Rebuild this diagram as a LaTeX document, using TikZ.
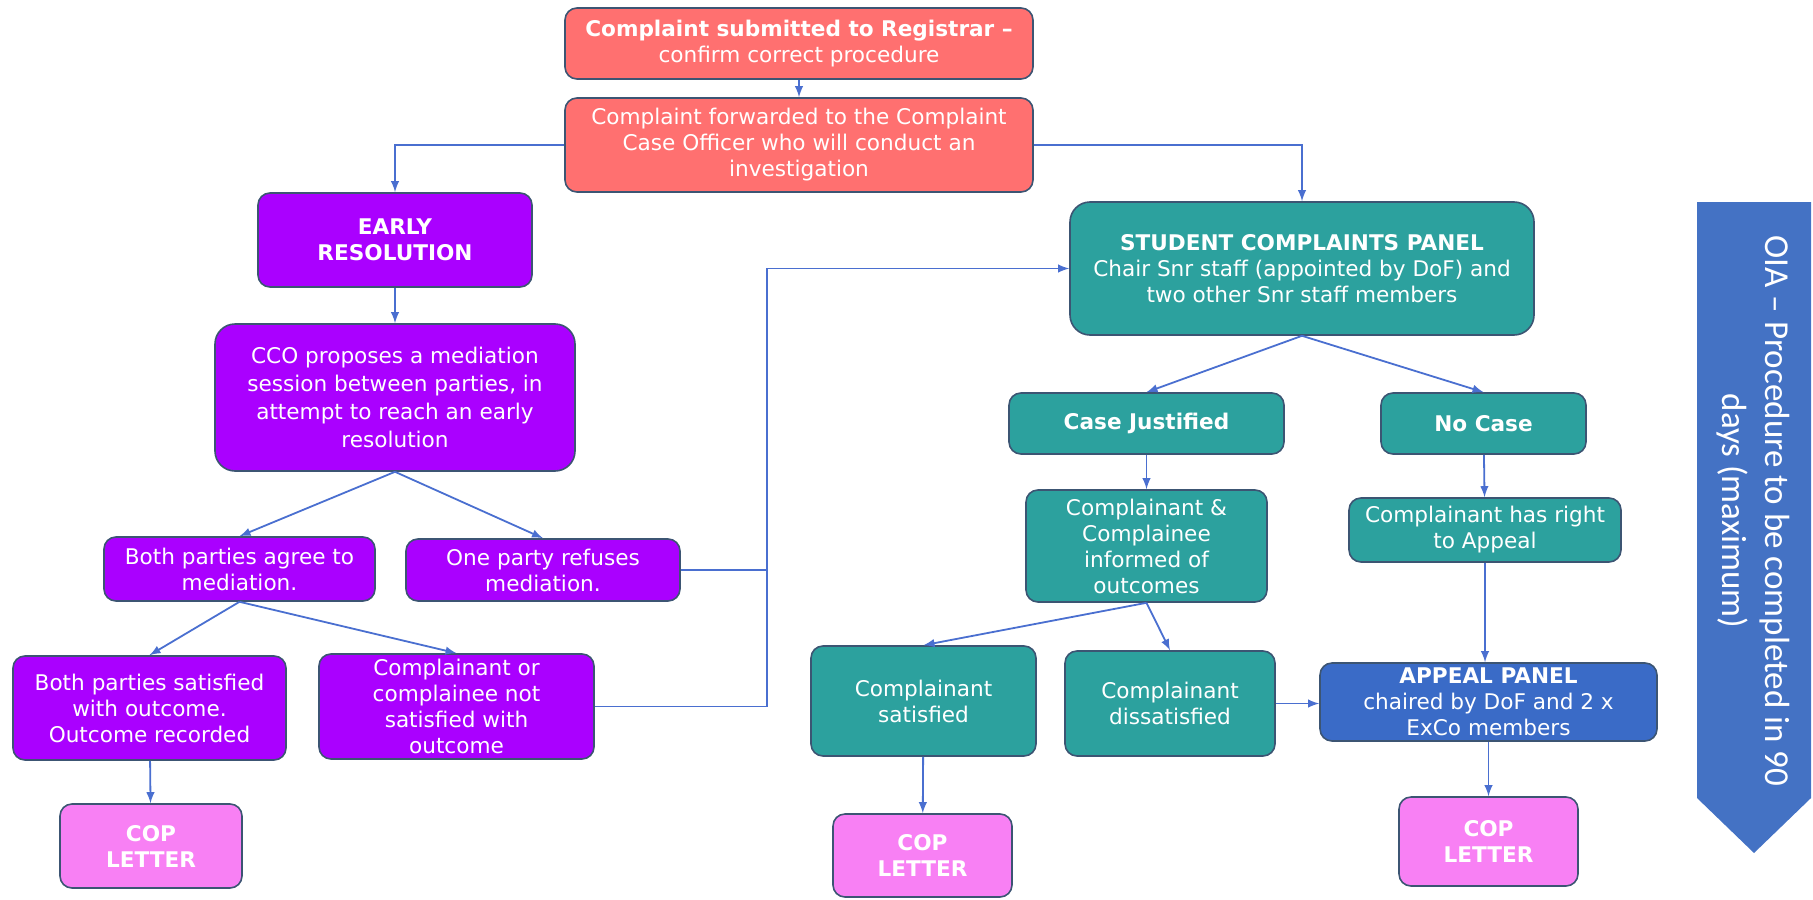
\documentclass[tikz,border=0pt]{standalone}
\usepackage{fontspec}
\setmainfont{DejaVu Sans}
\newfontfamily\oiafont{Carlito}
\usepackage{xcolor}
\usetikzlibrary{arrows}

\definecolor{salmonbox}{HTML}{FF7070}
\definecolor{purplebox}{HTML}{AA00FF}
\definecolor{tealbox}{HTML}{2CA19E}
\definecolor{appealblue}{HTML}{3A6BC7}
\definecolor{pinkbox}{HTML}{F880F4}
\definecolor{oiablue}{HTML}{4472C4}
\definecolor{edgeblue}{HTML}{4A6FD0}
\definecolor{boxline}{HTML}{3C5573}

\tikzset{
  box/.style={draw=boxline, line width=0.8pt, rounded corners=6pt, text=white,
    align=center, inner sep=2pt, font=\fontsize{10.8}{13}\selectfont},
  conn/.style={draw=edgeblue, line width=0.9pt, -latex},
}

\begin{document}
\begin{tikzpicture}[x=0.5pt, y=-0.5pt]
      \useasboundingbox (0,0) rectangle (1813,899);

      % registrar and case officer
      \node[box, fill=salmonbox, minimum width=234pt, minimum height=35.5pt] (reg) at (799,43.5)
        {\textbf{Complaint submitted to Registrar –}\\confirm correct procedure};
      \node[box, fill=salmonbox, minimum width=234pt, minimum height=47pt] (fwd) at (799,145)
        {Complaint forwarded to the Complaint\\Case Officer who will conduct an\\investigation};

      % early resolution side
      \node[box, fill=purplebox, minimum width=137pt, minimum height=47pt] (early) at (395,240)
        {\textbf{EARLY}\\\textbf{RESOLUTION}};
      \node[box, fill=purplebox, minimum width=180pt, minimum height=73.5pt, rounded corners=10pt,
        font=\fontsize{10.8}{14}\selectfont] (cco) at (395,397.5)
        {CCO proposes a mediation\\session between parties, in\\attempt to reach an early\\resolution};
      \node[box, fill=purplebox, minimum width=135.5pt, minimum height=32pt] (agree) at (239.5,569)
        {Both parties agree to\\mediation.};
      \node[box, fill=purplebox, minimum width=137pt, minimum height=31pt] (refuse) at (543,570)
        {One party refuses\\mediation.};
      \node[box, fill=purplebox, minimum width=136.5pt, minimum height=52pt] (bothsat) at (149.5,708)
        {Both parties satisfied\\with outcome.\\Outcome recorded};
      \node[box, fill=purplebox, minimum width=137.5pt, minimum height=52.5pt] (notsat) at (456.5,706.5)
        {Complainant or\\complainee not\\satisfied with\\outcome};
      \node[box, fill=pinkbox, minimum width=91pt, minimum height=42pt] (copa) at (151,846)
        {\textbf{COP}\\\textbf{LETTER}};

      % panel side
      \node[box, fill=tealbox, minimum width=232pt, minimum height=66.5pt, rounded corners=10pt] (scp) at (1302,268.5)
        {\textbf{STUDENT COMPLAINTS PANEL}\\Chair Snr staff (appointed by DoF) and\\two other Snr staff members};
      \node[box, fill=tealbox, minimum width=137.5pt, minimum height=30.5pt] (just) at (1146.5,423.5)
        {\textbf{Case Justified}};
      \node[box, fill=tealbox, minimum width=102.5pt, minimum height=30.5pt] (nocase) at (1483.5,423.5)
        {\textbf{No Case}};
      \node[box, fill=tealbox, minimum width=120.5pt, minimum height=56pt] (inform) at (1146.5,546)
        {Complainant \&\\Complainee\\informed of\\outcomes};
      \node[box, fill=tealbox, minimum width=136pt, minimum height=32pt] (right) at (1485,530)
        {Complainant has right\\to Appeal};
      \node[box, fill=tealbox, minimum width=112.5pt, minimum height=55pt] (csat) at (923.5,701)
        {Complainant\\satisfied};
      \node[box, fill=tealbox, minimum width=105pt, minimum height=52.5pt] (cdis) at (1170,703.5)
        {Complainant\\dissatisfied};
      \node[box, fill=appealblue, minimum width=168.5pt, minimum height=39pt] (appeal) at (1488.5,702)
        {\textbf{APPEAL PANEL}\\chaired by DoF and 2 x\\ExCo members};
      \node[box, fill=pinkbox, minimum width=89.5pt, minimum height=41.5pt] (copb) at (922.5,855.5)
        {\textbf{COP}\\\textbf{LETTER}};
      \node[box, fill=pinkbox, minimum width=89.5pt, minimum height=44.5pt] (copc) at (1488.5,841.5)
        {\textbf{COP}\\\textbf{LETTER}};

      % time limit arrow
      \fill[oiablue] (1697,202) -- (1811,202) -- (1811,798) -- (1754,853) -- (1697,798) -- cycle;
      \node[text=white, rotate=-90, align=center, font=\oiafont\fontsize{17.5}{21.5}\selectfont] (oia) at (1753,511)
        {OIA – Procedure to be completed in 90\\days (maximum)};

      \coordinate (bus) at (767,0);

      \draw[conn] (reg) -- (fwd);
      \draw[conn] (fwd.west) -| (early.north);
      \draw[conn] (fwd.east) -| (scp.north);
      \draw[conn] (early) -- (cco);
      \draw[conn] (cco.south) -- (agree.north);
      \draw[conn] (cco.south) -- (refuse.north);
      \draw[conn] (agree.south) -- (bothsat.north);
      \draw[conn] (agree.south) -- (notsat.north);
      \draw[conn] (bothsat) -- (copa);
      \draw[draw=edgeblue, line width=0.9pt] (refuse.east) -- (refuse.east -| bus);
      \draw[conn] (notsat.east) -- (notsat.east -| bus) -- (bus |- scp.west) -- (scp.west);

      \draw[conn] (scp.south) -- (just.north);
      \draw[conn] (scp.south) -- (nocase.north);
      \draw[conn] (just) -- (inform);
      \draw[conn] (nocase) -- (right);
      \draw[conn] (inform.south) -- (csat.north);
      \draw[conn] (inform.south) -- (cdis.north);
      \draw[conn] (right.south) -- (right.south |- appeal.north);
      \draw[conn] (cdis.east) -- (cdis.east -| appeal.west);
      \draw[conn] (csat) -- (copb);
      \draw[conn] (appeal) -- (appeal.south |- copc.north);

\end{tikzpicture}
\end{document}
